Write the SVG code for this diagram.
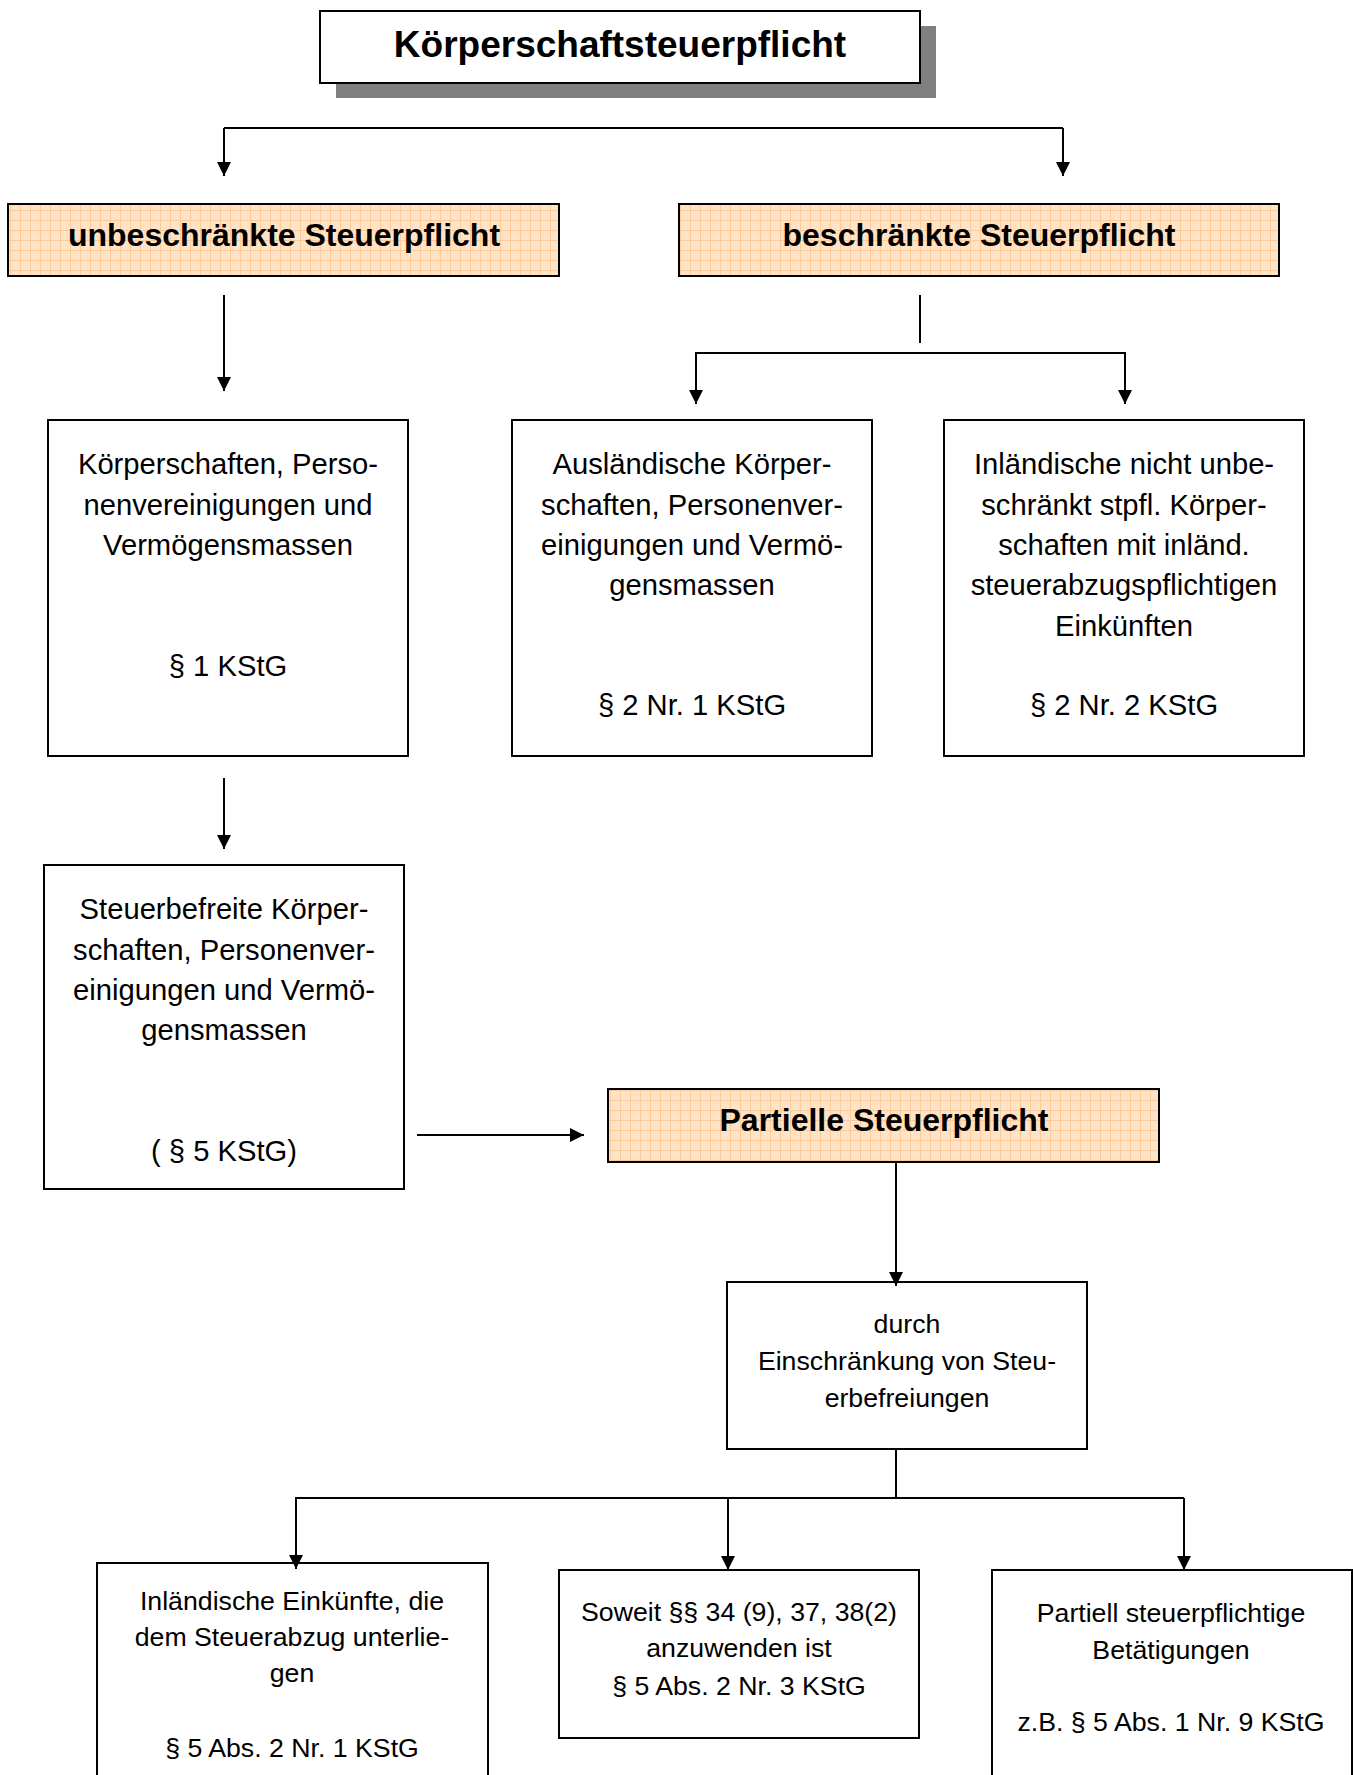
<svg xmlns="http://www.w3.org/2000/svg" width="1353" height="1775" viewBox="0 0 1353 1775">
<style>
.box{fill:#fff;stroke:#000;stroke-width:2}
.hl{stroke:#000;stroke-width:2;fill:url(#grid)}
.c{fill:none;stroke:#000;stroke-width:2}
.a{fill:none;stroke:#000;stroke-width:2;marker-end:url(#ah)}
text{font-family:"Liberation Sans",Arial,sans-serif;fill:#000;text-anchor:middle}
.t{font-size:37px;font-weight:bold}
.h{font-size:32px;font-weight:bold}
.m{font-size:29.2px}
.s{font-size:26.7px}
</style>
<defs>
<pattern id="grid" width="10" height="10" patternUnits="userSpaceOnUse">
<rect width="10" height="10" fill="#FFE3C6"/>
<path d="M0,0.5 H10 M0.5,0 V10" stroke="#FBCB9C" stroke-width="1"/>
</pattern>
<marker id="ah" markerUnits="userSpaceOnUse" markerWidth="14" markerHeight="14" viewBox="0 0 14 14" refX="14" refY="7" orient="auto">
<path d="M0,0 L14,7 L0,14 z" fill="#000"/>
</marker>
</defs>

<g id="title">
<rect x="336" y="26" width="600" height="72" fill="#808080"/>
<rect class="box" x="320" y="11" width="600" height="72"/>
<text class="t" x="620" y="57">Körperschaftsteuerpflicht</text>
</g>

<g id="unbeschraenkt">
<rect class="hl" x="8" y="204" width="551" height="72"/>
<text class="h" x="284" y="246">unbeschränkte Steuerpflicht</text>
</g>

<g id="beschraenkt">
<rect class="hl" x="679" y="204" width="600" height="72"/>
<text class="h" x="979" y="246">beschränkte Steuerpflicht</text>
</g>

<g id="koerperschaften">
<rect class="box" x="48" y="420" width="360" height="336"/>
<text class="m" x="228" y="474">Körperschaften, Perso-</text>
<text class="m" x="228" y="515">nenvereinigungen und</text>
<text class="m" x="228" y="555">Vermögensmassen</text>
<text class="m" x="228" y="676">§ 1 KStG</text>
</g>

<g id="auslaendische">
<rect class="box" x="512" y="420" width="360" height="336"/>
<text class="m" x="692" y="474">Ausländische Körper-</text>
<text class="m" x="692" y="515">schaften, Personenver-</text>
<text class="m" x="692" y="555">einigungen und Vermö-</text>
<text class="m" x="692" y="595">gensmassen</text>
<text class="m" x="692" y="715">§ 2 Nr. 1 KStG</text>
</g>

<g id="inlaendische">
<rect class="box" x="944" y="420" width="360" height="336"/>
<text class="m" x="1124" y="474">Inländische nicht unbe-</text>
<text class="m" x="1124" y="515">schränkt stpfl. Körper-</text>
<text class="m" x="1124" y="555">schaften mit inländ.</text>
<text class="m" x="1124" y="595">steuerabzugspflichtigen</text>
<text class="m" x="1124" y="636">Einkünften</text>
<text class="m" x="1124" y="715">§ 2 Nr. 2 KStG</text>
</g>

<g id="steuerbefreite">
<rect class="box" x="44" y="865" width="360" height="324"/>
<text class="m" x="224" y="919">Steuerbefreite Körper-</text>
<text class="m" x="224" y="960">schaften, Personenver-</text>
<text class="m" x="224" y="1000">einigungen und Vermö-</text>
<text class="m" x="224" y="1040">gensmassen</text>
<text class="m" x="224" y="1161">( § 5 KStG)</text>
</g>

<g id="partielle">
<rect class="hl" x="608" y="1089" width="551" height="73"/>
<text class="h" x="884" y="1131">Partielle Steuerpflicht</text>
</g>

<g id="durch">
<rect class="box" x="727" y="1282" width="360" height="167"/>
<text class="s" x="907" y="1333">durch</text>
<text class="s" x="907" y="1370">Einschränkung von Steu-</text>
<text class="s" x="907" y="1407">erbefreiungen</text>
</g>

<g id="einkuenfte">
<rect class="box" x="97" y="1563" width="391" height="230"/>
<text class="s" x="292" y="1610">Inländische Einkünfte, die</text>
<text class="s" x="292" y="1646">dem Steuerabzug unterlie-</text>
<text class="s" x="292" y="1682">gen</text>
<text class="s" x="292" y="1757">§ 5 Abs. 2 Nr. 1 KStG</text>
</g>

<g id="soweit">
<rect class="box" x="559" y="1570" width="360" height="168"/>
<text class="s" x="739" y="1621">Soweit §§ 34 (9), 37, 38(2)</text>
<text class="s" x="739" y="1657">anzuwenden ist</text>
<text class="s" x="739" y="1695">§ 5 Abs. 2 Nr. 3 KStG</text>
</g>

<g id="betaetigungen">
<rect class="box" x="992" y="1570" width="360" height="230"/>
<text class="s" x="1171" y="1622">Partiell steuerpflichtige</text>
<text class="s" x="1171" y="1659">Betätigungen</text>
<text class="s" x="1171" y="1731">z.B. § 5 Abs. 1 Nr. 9 KStG</text>
</g>

<g id="connectors">
<path class="c" d="M224,128 H1063"/>
<path class="a" d="M224,128 V176"/>
<path class="a" d="M1063,128 V176"/>
<path class="a" d="M224,295 V391"/>
<path class="c" d="M920,295 V343"/>
<path class="c" d="M695,353 H1126"/>
<path class="a" d="M696,353 V404"/>
<path class="a" d="M1125,353 V404"/>
<path class="a" d="M224,778 V849"/>
<path class="a" d="M417,1135 H584"/>
<path class="a" d="M896,1162 V1286"/>
<path class="c" d="M896,1449 V1498"/>
<path class="c" d="M295,1498 H1184"/>
<path class="a" d="M296,1498 V1569"/>
<path class="a" d="M728,1498 V1570"/>
<path class="a" d="M1184,1498 V1570"/>
</g>
</svg>
